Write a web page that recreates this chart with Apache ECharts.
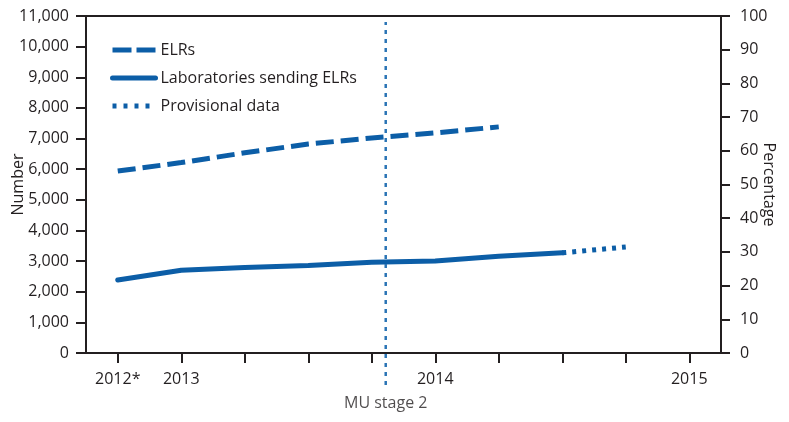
<!DOCTYPE html>
<html>
<head>
<meta charset="utf-8">
<script src="https://cdn.jsdelivr.net/npm/echarts@6/dist/echarts.min.js"></script>
<style>html,body{margin:0;padding:0;background:#fff}#c{width:789px;height:422px}</style>
</head>
<body>
<div id="c"></div>
<script>
const categories = ['2012 Q4','2013 Q1','2013 Q2','2013 Q3','2013 Q4','2014 Q1','2014 Q2','2014 Q3','2014 Q4','2015 Q1'];
const tickLabels = ['2012*','2013','','','','2014','','','','2015'];
const elrPercent = [54.0, 56.5, 59.4, 62.0, 63.8, 65.3, 67.1, null, null, null];
const labsNumber = [2380, 2700, 2790, 2860, 2960, 3000, 3160, 3270, null, null];
const provisionalNumber = [null, null, null, null, null, null, null, 3270, 3460, null];
const muStage2Position = 4.22;
const muLabel = 'MU stage 2';

const FONT = 'Open Sans';
const TXT = '#231f20';
const BLUE = '#0c5ea7';
const FS = 16;

const chart = echarts.init(document.getElementById('c'));
chart.setOption({
  animation: false,
  textStyle: { fontFamily: FONT, color: TXT },
  grid: [
    { left: 86, right: 68, top: 16, bottom: 69, show: true, borderColor: TXT, borderWidth: 2,
      backgroundColor: 'transparent', containLabel: false, outerBoundsMode: 'none' },
    { left: 86, right: 68, top: 22, bottom: 37, show: false, containLabel: false, outerBoundsMode: 'none' }
  ],
  legend: {
    orient: 'vertical', left: 105, top: 37, itemGap: 12, itemWidth: 43, itemHeight: 16,
    textStyle: { fontFamily: FONT, fontSize: FS, color: TXT },
    itemStyle: { opacity: 0 },
    data: [
      { name: 'ELRs', lineStyle: { width: 5, type: [19, 5], cap: 'butt' } },
      { name: 'Laboratories sending ELRs', lineStyle: { width: 5, type: 'solid' } },
      { name: 'Provisional data', lineStyle: { width: 5, type: [4, 7], cap: 'butt' } }
    ]
  },
  xAxis: [
    {
      type: 'category', gridIndex: 0, data: categories, boundaryGap: true,
      axisLine: { show: true, lineStyle: { color: TXT, width: 2 } },
      axisTick: { show: true, alignWithLabel: true, interval: 0, length: 10, lineStyle: { color: TXT, width: 2 } },
      axisLabel: { interval: 0, margin: 18, fontSize: FS, color: TXT, fontFamily: FONT,
        formatter: (v, i) => tickLabels[i] }
    },
    { type: 'value', gridIndex: 1, min: -0.5, max: 9.5, show: false }
  ],
  yAxis: [
    {
      type: 'value', gridIndex: 0, min: 0, max: 11000, interval: 1000, position: 'left',
      name: 'Number', nameLocation: 'middle', nameGap: 60, nameRotate: 90, nameMoveOverlap: false,
      nameTextStyle: { fontSize: FS, color: TXT, fontFamily: FONT },
      splitLine: { show: false },
      axisLine: { show: true, lineStyle: { color: TXT, width: 2 } },
      axisTick: { show: true, length: 10, lineStyle: { color: TXT, width: 2 } },
      axisLabel: { margin: 17, fontSize: FS, color: TXT, fontFamily: FONT,
        formatter: v => v.toLocaleString('en-US') }
    },
    {
      type: 'value', gridIndex: 0, min: 0, max: 100, interval: 10, position: 'right',
      name: 'Percentage', nameLocation: 'middle', nameGap: 40, nameRotate: -90, nameMoveOverlap: false,
      nameTextStyle: { fontSize: FS, color: TXT, fontFamily: FONT },
      splitLine: { show: false },
      axisLine: { show: true, lineStyle: { color: TXT, width: 2 } },
      axisTick: { show: true, length: 9, lineStyle: { color: TXT, width: 2 } },
      axisLabel: { margin: 19, fontSize: FS, color: TXT, fontFamily: FONT }
    },
    { type: 'value', gridIndex: 1, min: 0, max: 1, show: false }
  ],
  series: [
    {
      name: 'ELRs', type: 'line', xAxisIndex: 0, yAxisIndex: 1, data: elrPercent,
      symbol: 'none', color: BLUE,
      lineStyle: { color: BLUE, width: 5, type: [18, 7], cap: 'butt' }
    },
    {
      name: 'Laboratories sending ELRs', type: 'line', xAxisIndex: 0, yAxisIndex: 0, data: labsNumber,
      symbol: 'none', color: BLUE,
      lineStyle: { color: BLUE, width: 5, cap: 'round' }
    },
    {
      name: 'Provisional data', type: 'line', xAxisIndex: 0, yAxisIndex: 0, data: provisionalNumber,
      symbol: 'none', color: BLUE,
      lineStyle: { color: BLUE, width: 5, type: [4, 6], cap: 'butt' }
    },
    {
      name: 'MU', type: 'line', xAxisIndex: 1, yAxisIndex: 2,
      data: [[muStage2Position, 0], [muStage2Position, 1]],
      symbol: 'none', silent: true,
      lineStyle: { color: '#2a74b5', width: 2.5, type: [4, 5] }
    },
    {
      name: 'MUlabel', type: 'scatter', xAxisIndex: 1, yAxisIndex: 2,
      data: [[muStage2Position, 0]], symbolSize: 1, itemStyle: { color: 'rgba(0,0,0,0)' },
      label: { show: true, position: 'bottom', distance: 10, formatter: muLabel,
        fontSize: FS, color: TXT, fontFamily: FONT }
    }
  ]
});
</script>
</body>
</html>
